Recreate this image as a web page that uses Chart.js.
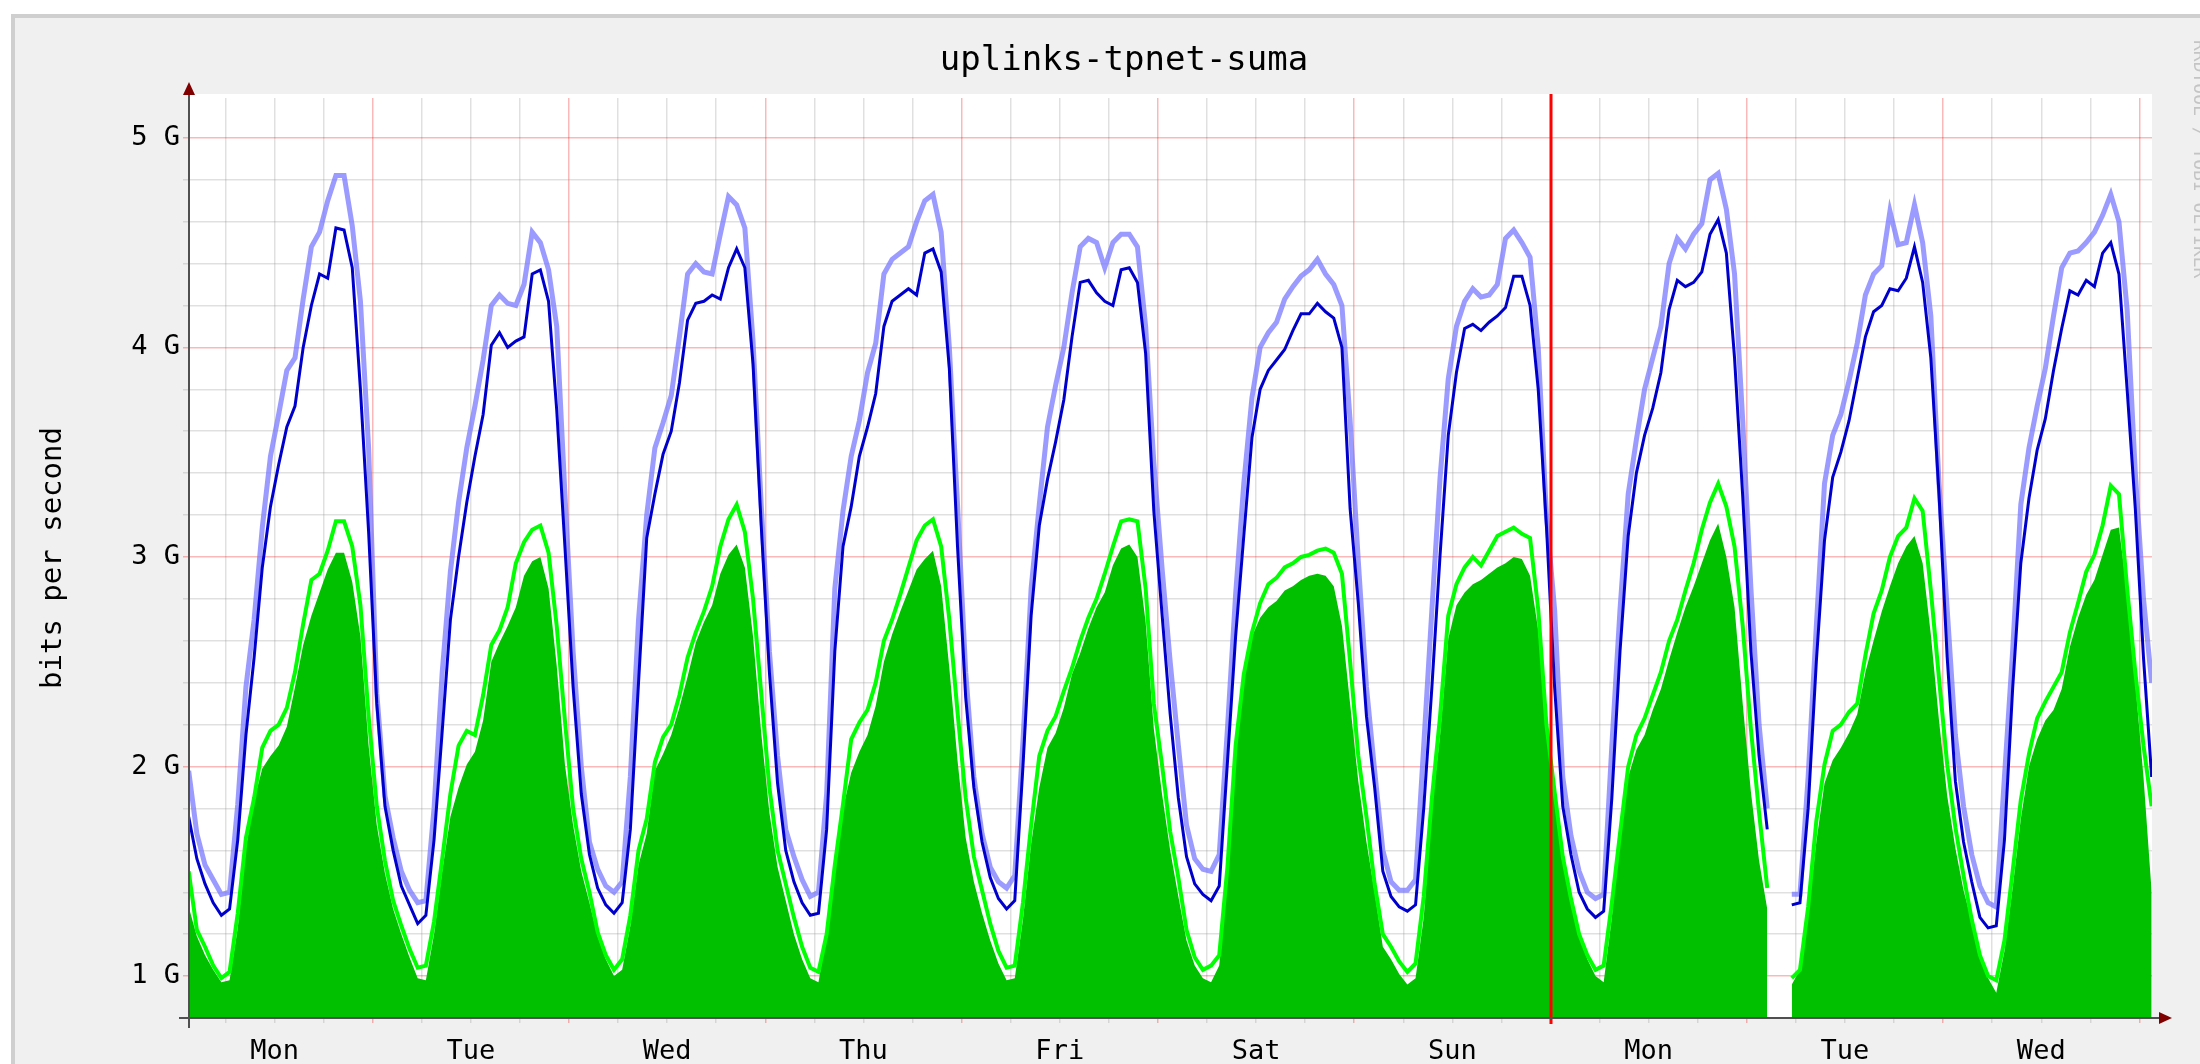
<!DOCTYPE html>
<html>
<head>
<meta charset="utf-8">
<title>uplinks-tpnet-suma</title>
<script src="https://cdn.jsdelivr.net/npm/chart.js@4.4.1/dist/chart.umd.min.js"></script>
<style>
  html, body { margin: 0; padding: 0; background: #fff; overflow: hidden; }
  #frame {
    position: absolute; left: 11px; top: 14px; width: 2189px; height: 1050px;
    background: #f0f0f0; border-left: 4px solid #cfcfcf; border-top: 4px solid #cfcfcf;
    box-sizing: border-box;
  }
  #wrap { position: absolute; left: 0; top: 0; width: 2200px; height: 1064px; }
</style>
</head>
<body>
<div id="frame"></div>
<div id="wrap"><canvas id="rrd" width="2200" height="1064"></canvas></div>
<script>
// hours counted from the first Monday 00:00, one sample per hour starting at 01:30
const startHour = 1.5;
const dayNames = ["Mon", "Tue", "Wed", "Thu", "Fri", "Sat", "Sun", "Mon", "Tue", "Wed"];

// outbound, average (dark blue line), Gbit/s
const outAvg = [
  1.76, 1.56, 1.44, 1.35, 1.29, 1.32, 1.65, 2.15, 2.52, 2.95, 3.24, 3.44, 3.62, 3.72, 4.00, 4.20, 4.35, 4.33, 4.57, 4.56, 4.38, 3.80, 3.12,
  2.30, 1.81, 1.60, 1.43, 1.34, 1.25, 1.29, 1.65, 2.17, 2.70, 3.00, 3.26, 3.48, 3.68, 4.01, 4.07, 4.00, 4.03, 4.05, 4.35, 4.37, 4.22, 3.70, 3.05,
  2.38, 1.87, 1.58, 1.42, 1.34, 1.30, 1.35, 1.70, 2.40, 3.09, 3.30, 3.49, 3.60, 3.83, 4.13, 4.21, 4.22, 4.25, 4.23, 4.38, 4.47, 4.38, 3.92, 3.15,
  2.45, 1.92, 1.60, 1.45, 1.35, 1.29, 1.30, 1.70, 2.55, 3.05, 3.24, 3.48, 3.62, 3.78, 4.10, 4.22, 4.25, 4.28, 4.25, 4.45, 4.47, 4.36, 3.90, 3.05,
  2.33, 1.90, 1.64, 1.47, 1.37, 1.32, 1.36, 2.00, 2.72, 3.15, 3.37, 3.55, 3.75, 4.05, 4.31, 4.32, 4.26, 4.22, 4.20, 4.37, 4.38, 4.31, 3.97, 3.22,
  2.73, 2.25, 1.85, 1.57, 1.44, 1.39, 1.36, 1.43, 2.02, 2.62, 3.10, 3.57, 3.80, 3.89, 3.94, 3.99, 4.08, 4.16, 4.16, 4.21, 4.17, 4.14, 4.00, 3.23,
  2.78, 2.24, 1.90, 1.50, 1.38, 1.33, 1.31, 1.34, 1.80, 2.38, 3.01, 3.58, 3.88, 4.09, 4.11, 4.08, 4.12, 4.15, 4.19, 4.34, 4.34, 4.20, 3.80, 3.15,
  2.38, 1.81, 1.58, 1.40, 1.32, 1.28, 1.31, 1.85, 2.55, 3.10, 3.40, 3.58, 3.71, 3.88, 4.18, 4.32, 4.29, 4.31, 4.36, 4.54, 4.61, 4.45, 3.95, 3.29,
  2.55, 2.05, 1.70, null, null, 1.34, 1.35, 1.80, 2.50, 3.08, 3.38, 3.50, 3.65, 3.85, 4.05, 4.17, 4.20, 4.28, 4.27, 4.33, 4.48, 4.31, 3.95, 3.30,
  2.52, 1.93, 1.64, 1.45, 1.28, 1.23, 1.24, 1.65, 2.37, 2.97, 3.28, 3.51, 3.66, 3.89, 4.09, 4.27, 4.25, 4.32, 4.29, 4.45, 4.50, 4.35, 3.80, 3.23,
  2.52, 1.95
];

// outbound, maximum (light blue line)
const outMax = [
  1.98, 1.68, 1.53, 1.46, 1.39, 1.40, 1.82, 2.38, 2.70, 3.14, 3.48, 3.68, 3.89, 3.95, 4.23, 4.48, 4.55, 4.70, 4.82, 4.82, 4.58, 4.22, 3.52,
  2.35, 1.86, 1.66, 1.50, 1.41, 1.35, 1.36, 1.80, 2.45, 2.93, 3.26, 3.52, 3.72, 3.94, 4.20, 4.25, 4.21, 4.20, 4.30, 4.55, 4.50, 4.37, 4.10, 3.30,
  2.55, 2.00, 1.64, 1.51, 1.43, 1.40, 1.45, 1.95, 2.70, 3.20, 3.52, 3.64, 3.77, 4.05, 4.35, 4.40, 4.36, 4.35, 4.54, 4.72, 4.68, 4.57, 4.03, 3.25,
  2.55, 2.05, 1.70, 1.57, 1.46, 1.38, 1.40, 1.87, 2.85, 3.22, 3.48, 3.65, 3.88, 4.02, 4.35, 4.42, 4.45, 4.48, 4.60, 4.70, 4.73, 4.55, 4.00, 3.25,
  2.45, 1.95, 1.68, 1.52, 1.45, 1.42, 1.48, 2.12, 2.85, 3.25, 3.62, 3.82, 4.00, 4.26, 4.48, 4.52, 4.50, 4.38, 4.50, 4.54, 4.54, 4.48, 4.10, 3.45,
  2.95, 2.50, 2.10, 1.72, 1.56, 1.51, 1.50, 1.58, 2.18, 2.82, 3.35, 3.76, 4.00, 4.07, 4.12, 4.23, 4.29, 4.34, 4.37, 4.42, 4.35, 4.30, 4.20, 3.65,
  2.98, 2.38, 1.98, 1.60, 1.45, 1.41, 1.41, 1.46, 2.10, 2.75, 3.38, 3.85, 4.10, 4.22, 4.28, 4.24, 4.25, 4.30, 4.52, 4.56, 4.50, 4.43, 4.00, 3.20,
  2.75, 1.95, 1.67, 1.50, 1.40, 1.37, 1.39, 2.10, 2.75, 3.30, 3.56, 3.80, 3.95, 4.10, 4.40, 4.52, 4.47, 4.54, 4.59, 4.80, 4.83, 4.66, 4.35, 3.65,
  2.85, 2.20, 1.80, null, null, 1.39, 1.39, 1.95, 2.67, 3.35, 3.58, 3.68, 3.84, 4.02, 4.25, 4.35, 4.39, 4.65, 4.49, 4.50, 4.68, 4.50, 4.15, 3.35,
  2.75, 2.15, 1.81, 1.58, 1.43, 1.35, 1.33, 1.95, 2.55, 3.25, 3.52, 3.72, 3.90, 4.15, 4.38, 4.45, 4.46, 4.50, 4.55, 4.63, 4.73, 4.60, 4.18, 3.40,
  2.80, 2.40
];

// inbound, maximum (bright green line)
const inMax = [
  1.50, 1.22, 1.14, 1.05, 0.99, 1.02, 1.30, 1.66, 1.85, 2.09, 2.17, 2.20, 2.28, 2.45, 2.68, 2.89, 2.92, 3.03, 3.17, 3.17, 3.05, 2.77, 2.24,
  1.81, 1.55, 1.36, 1.24, 1.13, 1.04, 1.05, 1.26, 1.56, 1.87, 2.10, 2.17, 2.15, 2.34, 2.58, 2.65, 2.76, 2.97, 3.07, 3.13, 3.15, 3.02, 2.67, 2.22,
  1.80, 1.56, 1.40, 1.21, 1.10, 1.03, 1.08, 1.29, 1.60, 1.75, 2.02, 2.14, 2.20, 2.34, 2.52, 2.64, 2.74, 2.86, 3.05, 3.18, 3.25, 3.12, 2.80, 2.35,
  1.90, 1.60, 1.44, 1.28, 1.14, 1.04, 1.02, 1.20, 1.53, 1.82, 2.13, 2.21, 2.27, 2.40, 2.60, 2.70, 2.82, 2.95, 3.08, 3.15, 3.18, 3.05, 2.70, 2.26,
  1.85, 1.57, 1.41, 1.25, 1.12, 1.04, 1.05, 1.35, 1.72, 2.05, 2.17, 2.24, 2.36, 2.47, 2.60, 2.71, 2.80, 2.92, 3.05, 3.17, 3.18, 3.17, 2.85, 2.30,
  2.01, 1.69, 1.47, 1.22, 1.09, 1.03, 1.05, 1.10, 1.52, 2.10, 2.44, 2.64, 2.78, 2.87, 2.90, 2.95, 2.97, 3.00, 3.01, 3.03, 3.04, 3.02, 2.92, 2.50,
  2.05, 1.76, 1.44, 1.20, 1.14, 1.07, 1.02, 1.06, 1.38, 1.85, 2.24, 2.72, 2.87, 2.95, 3.00, 2.96, 3.03, 3.10, 3.12, 3.14, 3.11, 3.09, 2.75, 2.20,
  1.88, 1.57, 1.37, 1.20, 1.10, 1.03, 1.05, 1.35, 1.68, 2.00, 2.15, 2.23, 2.34, 2.45, 2.60, 2.70, 2.84, 2.97, 3.13, 3.26, 3.35, 3.24, 3.05, 2.67,
  2.18, 1.78, 1.42, null, null, 0.99, 1.03, 1.33, 1.74, 2.01, 2.17, 2.20, 2.26, 2.30, 2.53, 2.73, 2.84, 3.00, 3.10, 3.14, 3.28, 3.22, 2.84, 2.42,
  2.01, 1.71, 1.48, 1.27, 1.10, 1.00, 0.98, 1.17, 1.50, 1.84, 2.06, 2.23, 2.31, 2.38, 2.45, 2.64, 2.78, 2.93, 3.01, 3.15, 3.34, 3.30, 2.85, 2.45,
  2.10, 1.81
];

// inbound, average (green area)
const inAvg = [
  1.33, 1.19, 1.10, 1.03, 0.97, 0.98, 1.23, 1.61, 1.84, 1.99, 2.05, 2.10, 2.19, 2.38, 2.58, 2.72, 2.83, 2.94, 3.02, 3.02, 2.88, 2.62, 2.10,
  1.72, 1.49, 1.32, 1.20, 1.09, 0.99, 0.98, 1.20, 1.50, 1.76, 1.90, 2.01, 2.07, 2.22, 2.50, 2.59, 2.67, 2.76, 2.91, 2.98, 3.00, 2.85, 2.48, 2.01,
  1.72, 1.50, 1.35, 1.19, 1.08, 1.00, 1.03, 1.24, 1.53, 1.68, 1.98, 2.06, 2.15, 2.28, 2.43, 2.59, 2.69, 2.77, 2.92, 3.01, 3.06, 2.95, 2.62, 2.16,
  1.78, 1.52, 1.36, 1.20, 1.08, 0.99, 0.97, 1.20, 1.53, 1.80, 1.97, 2.07, 2.15, 2.29, 2.50, 2.63, 2.74, 2.84, 2.94, 2.99, 3.03, 2.86, 2.47, 2.03,
  1.66, 1.45, 1.30, 1.17, 1.06, 0.98, 0.99, 1.27, 1.63, 1.90, 2.09, 2.16, 2.28, 2.44, 2.54, 2.66, 2.76, 2.83, 2.96, 3.04, 3.06, 3.00, 2.69, 2.18,
  1.87, 1.60, 1.38, 1.17, 1.05, 0.99, 0.97, 1.05, 1.47, 2.05, 2.42, 2.62, 2.71, 2.76, 2.79, 2.84, 2.86, 2.89, 2.91, 2.92, 2.91, 2.86, 2.67, 2.30,
  1.93, 1.64, 1.40, 1.14, 1.08, 1.01, 0.96, 0.99, 1.28, 1.80, 2.15, 2.61, 2.77, 2.83, 2.87, 2.89, 2.92, 2.95, 2.97, 3.00, 2.99, 2.91, 2.65, 2.21,
  1.87, 1.60, 1.40, 1.22, 1.08, 1.00, 0.97, 1.28, 1.70, 1.95, 2.08, 2.15, 2.27, 2.37, 2.51, 2.64, 2.76, 2.86, 2.97, 3.08, 3.16, 3.00, 2.76, 2.30,
  1.88, 1.55, 1.32, null, null, 0.96, 1.03, 1.30, 1.64, 1.92, 2.03, 2.09, 2.16, 2.25, 2.45, 2.60, 2.74, 2.86, 2.97, 3.05, 3.10, 2.97, 2.63, 2.22,
  1.86, 1.61, 1.41, 1.26, 1.11, 0.99, 0.92, 1.12, 1.42, 1.75, 2.00, 2.13, 2.22, 2.27, 2.37, 2.57, 2.71, 2.82, 2.89, 3.01, 3.13, 3.14, 2.83, 2.40,
  1.95, 1.40
];

const hours = inAvg.map((_, i) => startHour + i);
const vruleHour = 168; // second Monday 00:00

const mono = "'DejaVu Sans Mono', monospace";
const majorGrid = "rgba(240, 0, 0, 0.28)";
const minorGrid = "rgba(143, 143, 143, 0.28)";

const rrdDecor = {
  id: "rrdDecor",
  beforeDraw(chart) {
    const { ctx, chartArea: a } = chart;
    ctx.save();
    ctx.fillStyle = "#ffffff";
    ctx.fillRect(a.left, a.top - 4, a.right - a.left, a.bottom - a.top + 4);
    ctx.restore();
  },
  afterDraw(chart) {
    const { ctx, chartArea: a } = chart;
    const x = chart.scales.x;
    ctx.save();

    // red vertical rule at the start of the new week
    const vx = Math.round(x.getPixelForValue(vruleHour));
    ctx.strokeStyle = "#ff0000";
    ctx.lineWidth = 3;
    ctx.beginPath();
    ctx.moveTo(vx, a.top - 4);
    ctx.lineTo(vx, a.bottom + 6);
    ctx.stroke();

    // axes
    ctx.strokeStyle = "#505050";
    ctx.lineWidth = 2;
    ctx.beginPath();
    ctx.moveTo(a.left, a.bottom + 10);
    ctx.lineTo(a.left, a.top - 6);
    ctx.moveTo(a.left - 10, a.bottom);
    ctx.lineTo(a.right + 10, a.bottom);
    ctx.stroke();

    // arrow heads
    ctx.fillStyle = "#800000";
    ctx.beginPath();
    ctx.moveTo(a.left, a.top - 16);
    ctx.lineTo(a.left - 6, a.top - 3);
    ctx.lineTo(a.left + 6, a.top - 3);
    ctx.closePath();
    ctx.fill();
    ctx.beginPath();
    ctx.moveTo(a.right + 20, a.bottom);
    ctx.lineTo(a.right + 7, a.bottom - 6);
    ctx.lineTo(a.right + 7, a.bottom + 6);
    ctx.closePath();
    ctx.fill();

    // title
    ctx.fillStyle = "#000000";
    ctx.font = "34px " + mono;
    ctx.textAlign = "center";
    ctx.textBaseline = "alphabetic";
    ctx.fillText("uplinks-tpnet-suma", 1124, 70);

    // vertical axis label
    ctx.save();
    ctx.translate(53, (a.top + a.bottom) / 2);
    ctx.rotate(-Math.PI / 2);
    ctx.font = "29px " + mono;
    ctx.textBaseline = "middle";
    ctx.fillText("bits per second", 0, 0);
    ctx.restore();

    // watermark at the right edge
    ctx.save();
    ctx.translate(2199, 40);
    ctx.rotate(Math.PI / 2);
    ctx.font = "18px " + mono;
    ctx.fillStyle = "#c4c4c4";
    ctx.textAlign = "left";
    ctx.textBaseline = "middle";
    ctx.fillText("RRDTOOL / TOBI OETIKER", 0, 0);
    ctx.restore();

    ctx.restore();
  }
};

const lineBase = {
  pointRadius: 0,
  pointHoverRadius: 0,
  tension: 0,
  spanGaps: false,
  fill: false
};

new Chart(document.getElementById("rrd"), {
  type: "line",
  data: {
    labels: hours,
    datasets: [
      Object.assign({}, lineBase, {
        label: "in average",
        data: inAvg,
        fill: "start",
        backgroundColor: "#00c000",
        borderColor: "rgba(0,0,0,0)",
        borderWidth: 0,
        order: 4
      }),
      Object.assign({}, lineBase, {
        label: "in max",
        data: inMax,
        borderColor: "#00ff00",
        borderWidth: 4,
        order: 3
      }),
      Object.assign({}, lineBase, {
        label: "out max",
        data: outMax,
        borderColor: "rgba(120, 120, 255, 0.75)",
        borderWidth: 5,
        order: 2
      }),
      Object.assign({}, lineBase, {
        label: "out average",
        data: outAvg,
        borderColor: "#0000cc",
        borderWidth: 3,
        order: 1
      })
    ]
  },
  options: {
    responsive: false,
    animation: false,
    devicePixelRatio: 1,
    events: [],
    layout: { padding: { top: 98, right: 48, bottom: 0, left: 0 } },
    plugins: {
      legend: { display: false },
      tooltip: { enabled: false },
      title: { display: false }
    },
    scales: {
      x: {
        type: "linear",
        min: 1.54,
        max: 241.54,
        z: 1,
        afterFit: (s) => { s.height = 46; },
        afterBuildTicks: (s) => {
          const t = [];
          for (let h = 6; h < s.max; h += 6) t.push({ value: h });
          s.ticks = t;
        },
        border: { display: false },
        grid: {
          color: (c) => (c.tick && c.tick.value % 24 === 0 ? majorGrid : minorGrid),
          lineWidth: 1.5,
          tickLength: 5,
          drawTicks: true
        },
        ticks: {
          autoSkip: false,
          maxRotation: 0,
          padding: 13,
          color: "#000",
          font: { family: mono, size: 27 },
          callback: (v) => (v % 24 === 12 ? dayNames[(v - 12) / 24] : "")
        }
      },
      y: {
        type: "linear",
        min: 0.8,
        max: 5.19,
        z: 1,
        afterFit: (s) => { s.width = 189; },
        afterBuildTicks: (s) => {
          const t = [];
          for (let k = 8; k <= 50; k += 2) t.push({ value: k / 10 });
          s.ticks = t;
        },
        border: { display: false },
        grid: {
          color: (c) => (c.tick && Math.abs(c.tick.value - Math.round(c.tick.value)) < 1e-6 ? majorGrid : minorGrid),
          lineWidth: 1.5,
          tickLength: 6,
          drawTicks: true
        },
        ticks: {
          padding: 3,
          color: "#000",
          font: { family: mono, size: 27 },
          callback: (v) => (Math.abs(v - Math.round(v)) < 1e-6 ? Math.round(v) + " G" : "")
        }
      }
    }
  },
  plugins: [rrdDecor]
});
</script>
</body>
</html>
